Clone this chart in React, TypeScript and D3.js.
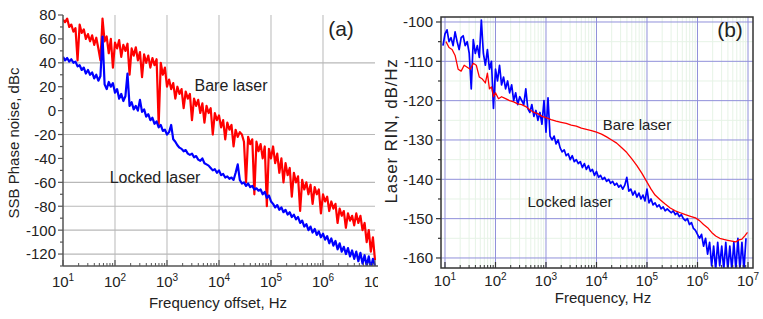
import React, { Component } from 'react';
import * as d3 from 'd3';

const FONT = 'Liberation Sans, Arial, sans-serif';

// (a) SSB phase noise, one value every 0.04 decade from 10 Hz to 10 MHz
const phaseExpStart = 1;
const phaseExpStep = 0.04;
const phaseBare = [
  76, 74, 77, 70, 72, 66, 69, 42, 72, 65,
  68, 60, 64, 58, 63, 55, 61, 52, 42, 77,
  58, 62, 48, 60, 36, 57, 52, 59, 45, 55,
  50, 56, 30, 52, 46, 53, 42, 49, 28, 47,
  40, 46, 36, 44, 38, 43, -12, 40, 30, 36,
  20, 26, 18, 23, 10, 20, 14, 18, 2, 16,
  10, 14, -8, 10, 4, 9, -2, 6, -10, 4,
  -2, 2, -20, -2, -8, -4, -14, -8, -24, -10,
  -16, -12, -30, -16, -22, -18, -20, -26, -60, -22,
  -28, -24, -70, -26, -34, -28, -40, -30, -80, -32,
  -40, -30, -44, -36, -52, -40, -60, -44, -54, -48,
  -72, -52, -60, -55, -84, -58, -66, -60, -70, -62,
  -78, -64, -70, -66, -86, -70, -76, -72, -84, -76,
  -82, -78, -94, -82, -88, -84, -98, -86, -92, -88,
  -96, -86, -94, -88, -100, -94, -110, -100, -118, -106,
  -125,
];
const phaseLocked = [
  45, 42, 44, 41, 43, 40, 41, 37, 38, 34,
  36, 31, 34, 30, 32, 27, 30, 25, 29, 62,
  22, 18, 24, 20, 23, 15, 18, 10, 14, 8,
  12, 31, 4, 7, 1, 4, 0, 9, -1, 1,
  -5, -3, -8, -6, -11, -9, -14, -12, -17, -16,
  -20, -18, -12, -24, -26, -29, -31, -32, -34, -33,
  -36, -37, -36, -39, -38, -41, -42, -40, -44, -45,
  -46, -48, -50, -49, -52, -50, -54, -53, -56, -55,
  -57, -56, -58, -52, -45, -58, -61, -60, -63, -61,
  -64, -63, -66, -65, -67, -66, -70, -68, -73, -71,
  -76, -78, -81, -79, -83, -81, -85, -83, -87, -85,
  -89, -87, -91, -89, -94, -92, -97, -95, -100, -97,
  -102, -99, -104, -101, -106, -103, -108, -105, -111, -107,
  -113, -109, -116, -111, -118, -114, -120, -115, -122, -117,
  -124, -118, -126, -119, -128, -121, -130, -122, -132, -124,
  -130,
];
const phaseTicksY = [-120, -100, -80, -60, -40, -20, 0, 20, 40, 60, 80];
const phaseGridY = [40, -20, -60, -80, -100, -120];

// (b) laser RIN
const rinExpStart = 0.96;
const rinExpStep = 0.04;
const rinLocked = [
  -106, -103, -102, -105, -104, -106, -102.5, -105, -107, -104,
  -103.5, -106, -105, -108, -117, -104.5, -108, -106, -109, -99.5,
  -108, -111, -107, -112, -110, -122, -112, -115, -111, -116,
  -114, -117, -115, -118, -116, -120, -118, -121, -119, -120,
  -121, -117, -122, -123, -121, -124, -122.5, -125, -123, -126,
  -120, -128, -119.3, -129, -130, -129, -131, -130, -132, -133,
  -132.5, -134, -133.5, -135, -134, -135.5, -135, -136, -135.5, -137,
  -136, -137.5, -136.5, -138, -137.5, -139, -138, -139.5, -139, -140,
  -139.5, -140.5, -140, -141, -140.5, -141.5, -141, -142, -141.5, -142.5,
  -141.5, -139.5, -143, -142.5, -144, -143, -144.5, -143.5, -145, -144,
  -145.5, -142.5, -146, -145, -146.5, -146, -147, -146.5, -147.5, -147,
  -148, -147.5, -148, -148.5, -148, -149, -148.5, -149.5, -149, -150,
  -150.5, -150, -151.5, -151, -152.5, -153, -154, -155, -154, -157,
  -155, -159, -156, -162, -157, -163, -156, -162, -157, -163,
  -156, -163, -157, -163, -156, -163, -155, -163, -156, -163,
  -155,
];
const rinBareExp = [
  1.02, 1.08, 1.14, 1.2, 1.26, 1.32, 1.38, 1.44, 1.5, 1.56,
  1.62, 1.68, 1.74, 1.8, 1.84, 1.88, 1.92, 1.96, 2.0, 2.06,
  2.12, 2.2, 2.28, 2.36, 2.44, 2.52, 2.6, 2.68, 2.76, 2.84,
  2.92, 3.0, 3.1, 3.2, 3.3, 3.4, 3.5, 3.6, 3.7, 3.8,
  3.9, 4.0, 4.1, 4.2, 4.3, 4.4, 4.5, 4.6, 4.7, 4.8,
  4.9, 5.0, 5.08, 5.16, 5.26, 5.36, 5.46, 5.56, 5.66, 5.76,
  5.86, 5.96, 6.04, 6.12, 6.2, 6.28, 6.36, 6.44, 6.52, 6.6,
  6.68, 6.76, 6.82, 6.88, 6.94, 6.99,
];
const rinBare = [
  -105, -106.5, -107, -108.5, -112, -112.5, -111, -111.5, -112, -110.5,
  -111, -114, -114.5, -115.5, -113, -117, -116.5, -119, -118, -119.5,
  -119, -119.5, -120, -120.3, -120.8, -121, -121.5, -122.3, -123, -123.3,
  -124, -124.3, -124.8, -125.2, -125.5, -125.8, -126.2, -126.5, -127, -127.3,
  -127.6, -128, -128.5, -129.2, -130, -130.8, -132, -133.2, -134.8, -136.5,
  -138.5, -140.7, -142.5, -144, -145.2, -146.3, -147.3, -148, -148.5, -149,
  -149.4, -149.8, -150.5, -151.5, -152.3, -153.5, -154.4, -155, -155.3, -155.5,
  -155.7, -155.9, -155.4, -155.2, -154.3, -153.5,
];
const rinTicksY = [-160, -150, -140, -130, -120, -110, -100];

const decades = [1, 2, 3, 4, 5, 6, 7];

export default class App extends Component {
  svgRef = React.createRef<SVGSVGElement>();

  componentDidMount() {
    document.body.style.margin = '0';
    this.draw();
  }

  powLabel(g: any, x: number, y: number, exp: number) {
    const t = g.append('text')
      .attr('x', x).attr('y', y)
      .attr('text-anchor', 'middle')
      .attr('font-size', 15)
      .attr('fill', '#222');
    t.append('tspan').text('10');
    t.append('tspan').attr('dy', -6).attr('font-size', 10).text(exp);
  }

  minorExps() {
    const out: number[] = [];
    decades.slice(0, -1).forEach((d) => {
      for (let k = 2; k <= 9; k++) out.push(d + Math.log10(k));
    });
    return out;
  }

  draw() {
    const svg = d3.select(this.svgRef.current);
    svg.selectAll('*').remove();
    svg.style('font-family', FONT);
    const defs = svg.append('defs');

    // ---------- panel (a) ----------
    defs.append('clipPath').attr('id', 'panelA')
      .append('rect').attr('x', 0).attr('y', 0).attr('width', 378).attr('height', 319);
    defs.append('clipPath').attr('id', 'plotA')
      .append('rect').attr('x', 63).attr('y', 10).attr('width', 313).attr('height', 256);

    const xA = d3.scaleLog().domain([10, 1e7]).range([63, 375]);
    const yA = d3.scaleLinear().domain([-130, 80]).range([266, 15]);
    const a = svg.append('g').attr('clip-path', 'url(#panelA)');

    a.selectAll('.vgridA').data(decades.slice(1, -1)).enter().append('line')
      .attr('x1', (d) => xA(10 ** d)).attr('x2', (d) => xA(10 ** d))
      .attr('y1', 15).attr('y2', 266)
      .attr('stroke', '#c4c4c4').attr('stroke-width', 1.2);
    a.selectAll('.hgridA').data(phaseGridY).enter().append('line')
      .attr('x1', 63).attr('x2', 375)
      .attr('y1', (d) => yA(d)).attr('y2', (d) => yA(d))
      .attr('stroke', '#b8b8b8').attr('stroke-width', 1.2);

    const lineA = d3.line<number>()
      .x((d, i) => xA(10 ** (phaseExpStart + phaseExpStep * i)))
      .y((d) => yA(d));
    const plotA = a.append('g').attr('clip-path', 'url(#plotA)');
    plotA.append('path').datum(phaseBare).attr('d', lineA)
      .attr('fill', 'none').attr('stroke', '#ff0000').attr('stroke-width', 2.2).attr('stroke-linejoin', 'round');
    plotA.append('path').datum(phaseLocked).attr('d', lineA)
      .attr('fill', 'none').attr('stroke', '#0000ff').attr('stroke-width', 2.2).attr('stroke-linejoin', 'round');

    // axes
    a.append('line').attr('x1', 63).attr('x2', 63).attr('y1', 15).attr('y2', 266)
      .attr('stroke', '#555').attr('stroke-width', 1.5);
    a.append('line').attr('x1', 63).attr('x2', 378).attr('y1', 266).attr('y2', 266)
      .attr('stroke', '#555').attr('stroke-width', 1.5);
    a.selectAll('.ytA').data(d3.range(-130, 81, 10)).enter().append('line')
      .attr('x1', (d) => (d % 20 === 0 ? 58 : 60)).attr('x2', 63)
      .attr('y1', (d) => yA(d)).attr('y2', (d) => yA(d))
      .attr('stroke', '#555').attr('stroke-width', 1.2);
    a.selectAll('.ylA').data(phaseTicksY).enter().append('text')
      .attr('x', 56).attr('y', (d) => yA(d)).attr('dy', '0.36em')
      .attr('text-anchor', 'end').attr('font-size', 15).attr('fill', '#222')
      .text((d) => d);
    a.selectAll('.xtA').data(decades).enter().append('line')
      .attr('x1', (d) => xA(10 ** d)).attr('x2', (d) => xA(10 ** d))
      .attr('y1', 266).attr('y2', 260)
      .attr('stroke', '#555').attr('stroke-width', 1.2);
    a.selectAll('.xmA').data(this.minorExps()).enter().append('line')
      .attr('x1', (d) => xA(10 ** d)).attr('x2', (d) => xA(10 ** d))
      .attr('y1', 266).attr('y2', 263)
      .attr('stroke', '#555').attr('stroke-width', 1);
    decades.forEach((d) => this.powLabel(a, xA(10 ** d), 287, d));

    a.append('text').attr('x', 218).attr('y', 308).attr('text-anchor', 'middle')
      .attr('font-size', 15).attr('fill', '#222').text('Frequency offset, Hz');
    a.append('text').attr('transform', 'translate(19,143) rotate(-90)')
      .attr('text-anchor', 'middle').attr('font-size', 15).attr('fill', '#222')
      .text('SSB Phase noise, dBc');
    a.append('text').attr('x', 341).attr('y', 36).attr('text-anchor', 'middle')
      .attr('font-size', 21).attr('fill', '#222').text('(a)');
    a.append('text').attr('x', 231).attr('y', 91).attr('text-anchor', 'middle')
      .attr('font-size', 16).attr('fill', '#222').text('Bare laser');
    a.append('text').attr('x', 155).attr('y', 183).attr('text-anchor', 'middle')
      .attr('font-size', 16).attr('fill', '#222').text('Locked laser');

    // ---------- panel (b) ----------
    const L = 441, R = 753, T = 17, B = 268;
    defs.append('clipPath').attr('id', 'plotB')
      .append('rect').attr('x', L).attr('y', T).attr('width', R - L).attr('height', B - T);
    const xB = d3.scaleLog().domain([10 ** 0.921, 10 ** 7.099]).range([L, R]);
    const yB = d3.scaleLinear().domain([-162.55, -98.73]).range([B, T]);
    const b = svg.append('g');

    b.selectAll('.vminB').data(this.minorExps()).enter().append('line')
      .attr('x1', (d) => xB(10 ** d)).attr('x2', (d) => xB(10 ** d))
      .attr('y1', T).attr('y2', B)
      .attr('stroke', '#e6f3e6').attr('stroke-width', 1);
    b.selectAll('.hminB').data(d3.range(-160, -99, 5).filter((d) => d % 10 !== 0)).enter().append('line')
      .attr('x1', L).attr('x2', R)
      .attr('y1', (d) => yB(d)).attr('y2', (d) => yB(d))
      .attr('stroke', '#e6f3e6').attr('stroke-width', 1);
    b.selectAll('.vgridB').data(decades).enter().append('line')
      .attr('x1', (d) => xB(10 ** d)).attr('x2', (d) => xB(10 ** d))
      .attr('y1', T).attr('y2', B)
      .attr('stroke', '#9090da').attr('stroke-width', 1);
    b.selectAll('.hgridB').data(rinTicksY).enter().append('line')
      .attr('x1', L).attr('x2', R)
      .attr('y1', (d) => yB(d)).attr('y2', (d) => yB(d))
      .attr('stroke', '#9090da').attr('stroke-width', 1);

    const plotB = b.append('g').attr('clip-path', 'url(#plotB)');
    const lineLocked = d3.line<number>()
      .x((d, i) => xB(10 ** (rinExpStart + rinExpStep * i)))
      .y((d) => yB(d));
    const lineBare = d3.line<number>()
      .x((d, i) => xB(10 ** rinBareExp[i]))
      .y((d) => yB(d));
    plotB.append('path').datum(rinLocked).attr('d', lineLocked)
      .attr('fill', 'none').attr('stroke', '#0000ff').attr('stroke-width', 1.7).attr('stroke-linejoin', 'round');
    plotB.append('path').datum(rinBare).attr('d', lineBare)
      .attr('fill', 'none').attr('stroke', '#ff0000').attr('stroke-width', 1.3).attr('stroke-linejoin', 'round');

    b.append('rect').attr('x', L).attr('y', T).attr('width', R - L).attr('height', B - T)
      .attr('fill', 'none').attr('stroke', '#333').attr('stroke-width', 1.5);
    b.selectAll('.ytB').data(d3.range(-160, -99, 5)).enter().append('line')
      .attr('x1', (d) => (d % 10 === 0 ? 436 : 438)).attr('x2', L)
      .attr('y1', (d) => yB(d)).attr('y2', (d) => yB(d))
      .attr('stroke', '#333').attr('stroke-width', 1.2);
    b.selectAll('.ylB').data(rinTicksY).enter().append('text')
      .attr('x', 433).attr('y', (d) => yB(d)).attr('dy', '0.36em')
      .attr('text-anchor', 'end').attr('font-size', 15).attr('fill', '#222')
      .text((d) => d);
    b.selectAll('.xtB').data(decades).enter().append('line')
      .attr('x1', (d) => xB(10 ** d)).attr('x2', (d) => xB(10 ** d))
      .attr('y1', B).attr('y2', B - 6)
      .attr('stroke', '#333').attr('stroke-width', 1.2);
    b.selectAll('.xmB').data(this.minorExps()).enter().append('line')
      .attr('x1', (d) => xB(10 ** d)).attr('x2', (d) => xB(10 ** d))
      .attr('y1', B).attr('y2', B - 3)
      .attr('stroke', '#333').attr('stroke-width', 1);
    decades.forEach((d) => this.powLabel(b, xB(10 ** d), 286, d));

    b.append('text').attr('x', 603).attr('y', 303).attr('text-anchor', 'middle')
      .attr('font-size', 15).attr('fill', '#222').text('Frequency, Hz');
    b.append('text').attr('transform', 'translate(397,131) rotate(-90)')
      .attr('text-anchor', 'middle').attr('font-size', 17).attr('letter-spacing', 0.8)
      .attr('fill', '#222').text('Laser RIN, dB/Hz');
    b.append('text').attr('x', 730).attr('y', 37).attr('text-anchor', 'middle')
      .attr('font-size', 21).attr('fill', '#222').text('(b)');
    b.append('text').attr('x', 637).attr('y', 130).attr('text-anchor', 'middle')
      .attr('font-size', 15).attr('fill', '#222').text('Bare laser');
    b.append('text').attr('x', 570).attr('y', 207).attr('text-anchor', 'middle')
      .attr('font-size', 15).attr('fill', '#222').text('Locked laser');
  }

  render() {
    return (
      <svg ref={this.svgRef} width={763} height={319} style={{ display: 'block', background: '#fff' }} />
    );
  }
}
